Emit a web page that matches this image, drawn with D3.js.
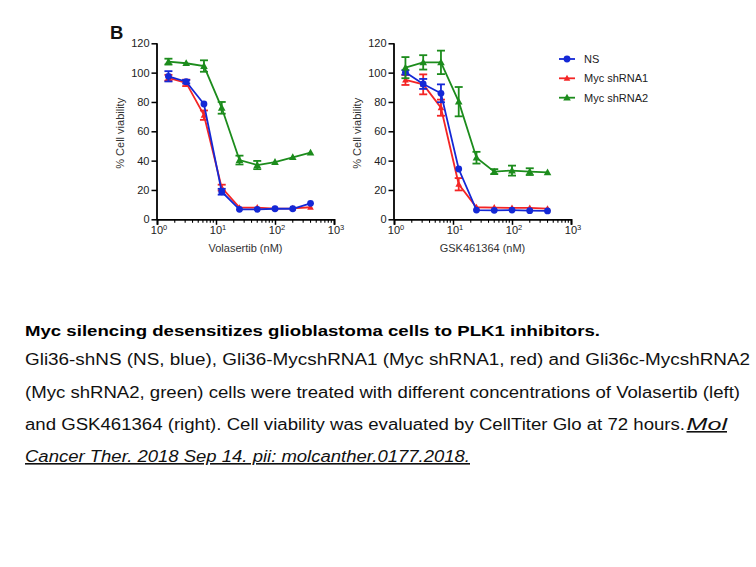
<!DOCTYPE html>
<html><head><meta charset="utf-8">
<script src="https://cdn.jsdelivr.net/npm/d3@7"></script>
<style>
html,body{margin:0;padding:0;background:#fff;}
svg{display:block;}
</style></head>
<body>
<svg id="c" width="756" height="567"></svg>
<script>
// ---- data ----
const conc = [1.5625, 3.125, 6.25, 12.5, 25, 50, 100, 200, 400];
const seriesNames = ["NS", "Myc shRNA1", "Myc shRNA2"];
const seriesColors = ["#1428d6", "#f42525", "#1c8c1c"];
const xTitles = ["Volasertib (nM)", "GSK461364 (nM)"];
const yTitle = "% Cell viability";
const yTicks = [0, 20, 40, 60, 80, 100, 120];
const xTickExps = [0, 1, 2, 3];

// Volasertib (left)
const volNS   = [97.5, 93.8, 78.6, 18.8, 6.8, 6.8, 7.2, 7.2, 10.9];
const volNSe  = [3.5, 1.2, 1.0, 2.0, 0.8, 0.6, 0.5, 0.5, 0.8];
const volSh1  = [96.5, 93.0, 71.0, 21.6, 7.9, 8.0, 7.3, 7.5, 8.2];
const volSh1e = [2.0, 2.2, 3.2, 2.0, 0.6, 0.6, 0.5, 0.5, 0.5];
const volSh2  = [107.5, 106.4, 104.5, 76.0, 40.4, 37.0, 39.0, 42.3, 45.4];
const volSh2e = [2.0, 0.8, 3.9, 4.0, 3.0, 2.8, 1.0, 0.8, 0.5];

// GSK461364 (right)
const gskNS   = [100.2, 92.3, 85.9, 34.3, 6.3, 6.1, 6.3, 5.9, 5.7];
const gskNSe  = [1.5, 3.4, 6.1, 1.0, 0.6, 0.5, 0.5, 0.5, 0.5];
const gskSh1  = [95.0, 92.0, 76.1, 23.9, 8.2, 8.0, 7.8, 7.8, 7.3];
const gskSh1e = [3.4, 6.8, 5.5, 4.2, 0.6, 0.5, 0.5, 0.5, 0.5];
const gskSh2  = [103.4, 107.0, 107.0, 80.2, 42.0, 32.5, 33.2, 32.5, 32.0];
const gskSh2e = [7.2, 4.9, 8.0, 10.0, 4.0, 1.7, 3.4, 2.3, 0.5];

const captionTitle = "Myc silencing desensitizes glioblastoma cells to PLK1 inhibitors.";
const captionLines = [
  "Gli36-shNS (NS, blue), Gli36-MycshRNA1 (Myc shRNA1, red) and Gli36c-MycshRNA2",
  "(Myc shRNA2, green) cells were treated with different concentrations of Volasertib (left)",
  "and GSK461364 (right). Cell viability was evaluated by CellTiter Glo at 72 hours."
];
const captionRef1 = " Mol";
const captionRef2 = "Cancer Ther. 2018 Sep 14. pii: molcanther.0177.2018.";

// ---- drawing ----
const svg = d3.select("#c");
const font = "'Liberation Sans', Arial, sans-serif";
const narrow = "'Liberation Sans Narrow', 'Arial Narrow', 'Liberation Sans', Arial, sans-serif";

const panels = [
  {x0: 157, x1: 334, title: xTitles[0], ylabX: 124,
   series: [[volNS, volNSe], [volSh1, volSh1e], [volSh2, volSh2e]]},
  {x0: 394, x1: 571, title: xTitles[1], ylabX: 361,
   series: [[gskNS, gskNSe], [gskSh1, gskSh1e], [gskSh2, gskSh2e]]}
];
const yTop = 43.3, yBot = 219.3;

function marker(g, type, color, cx, cy) {
  if (type === 0) {
    g.append("circle").attr("cx", cx).attr("cy", cy).attr("r", 3.4).attr("fill", color);
  } else {
    const s = type === 1 ? 3.3 : 3.8;
    g.append("path")
      .attr("d", `M${cx},${cy - s * 1.05}L${cx + s},${cy + s * 0.75}L${cx - s},${cy + s * 0.75}Z`)
      .attr("fill", color);
  }
}

panels.forEach(p => {
  const x = d3.scaleLog().domain([1, 1000]).range([p.x0, p.x1]);
  const y = d3.scaleLinear().domain([0, 120]).range([yBot, yTop]);
  const g = svg.append("g");

  // minor x ticks
  const minors = [];
  [1, 10, 100].forEach(d => { for (let k = 2; k <= 9; k++) minors.push(d * k); });
  g.selectAll(".minor").data(minors).enter().append("line")
    .attr("x1", d => x(d)).attr("x2", d => x(d))
    .attr("y1", yBot).attr("y2", yBot + 3.5)
    .attr("stroke", "#000").attr("stroke-width", 1.1);

  // x axis
  const xa = d3.axisBottom(x).tickValues(xTickExps.map(e => Math.pow(10, e)))
    .tickSize(5.5).tickFormat("");
  const xg = g.append("g").attr("transform", `translate(0,${yBot})`).call(xa);
  xg.select(".domain").attr("stroke-width", 1.8).attr("stroke", "#000");
  xg.selectAll(".tick line").attr("stroke-width", 1.5).attr("stroke", "#000");
  xTickExps.forEach(e => {
    const t = g.append("text").attr("x", x(Math.pow(10, e)) + 2).attr("y", yBot + 15)
      .attr("text-anchor", "middle").attr("font-family", font).attr("font-size", 11).attr("fill", "#222");
    t.append("tspan").text("10");
    t.append("tspan").attr("dy", -4.5).attr("font-size", 7.5).text(String(e));
  });

  // y axis
  const ya = d3.axisLeft(y).tickValues(yTicks).tickSize(5.5).tickPadding(2).tickFormat(d3.format("d"));
  const yg = g.append("g").attr("transform", `translate(${p.x0},0)`).call(ya);
  yg.select(".domain").attr("stroke-width", 1.8).attr("stroke", "#000")
    .attr("d", `M0,${yTop}V${yBot}`);
  yg.selectAll(".tick line").attr("stroke-width", 1.5).attr("stroke", "#000");
  yg.selectAll(".tick text").attr("font-family", font).attr("font-size", 11).attr("fill", "#222");

  // titles
  g.append("text").attr("x", (p.x0 + p.x1) / 2).attr("y", 252)
    .attr("text-anchor", "middle").attr("font-family", font).attr("font-size", 11).attr("fill", "#333")
    .text(p.title);
  g.append("text").attr("transform", `translate(${p.ylabX},${(yTop + yBot) / 2 + 2}) rotate(-90)`)
    .attr("text-anchor", "middle").attr("font-family", font).attr("font-size", 11).attr("fill", "#333")
    .text(yTitle);

  // series (draw order: red, blue, green)
  [1, 0, 2].forEach(si => {
    const [vals, errs] = p.series[si];
    const col = seriesColors[si];
    const sg = g.append("g");
    const line = d3.line().x((d, i) => x(conc[i])).y(d => y(d));
    sg.append("path").attr("d", line(vals)).attr("fill", "none")
      .attr("stroke", col).attr("stroke-width", 1.8);
    vals.forEach((v, i) => {
      const e = errs[i];
      const cx = x(conc[i]);
      if (y(v - e) - y(v + e) > 3) {
        sg.append("line").attr("x1", cx).attr("x2", cx).attr("y1", y(v - e)).attr("y2", y(v + e))
          .attr("stroke", col).attr("stroke-width", 1.8);
        [v - e, v + e].forEach(yy => {
          sg.append("line").attr("x1", cx - 4).attr("x2", cx + 4).attr("y1", y(yy)).attr("y2", y(yy))
            .attr("stroke", col).attr("stroke-width", 1.8);
        });
      }
      marker(sg, si, col, cx, y(v));
    });
  });
});

// legend
const legY = [59, 78.3, 97.7];
seriesNames.forEach((n, i) => {
  const lg = svg.append("g");
  lg.append("line").attr("x1", 559).attr("x2", 575).attr("y1", legY[i]).attr("y2", legY[i])
    .attr("stroke", seriesColors[i]).attr("stroke-width", 1.8);
  marker(lg, i, seriesColors[i], 567, legY[i]);
  lg.append("text").attr("x", 584).attr("y", legY[i] + 4)
    .attr("font-family", font).attr("font-size", 11).attr("fill", "#222").text(n);
});

// panel letter
svg.append("text").attr("x", 110).attr("y", 38.5).attr("font-family", font)
  .attr("font-weight", "bold").attr("font-size", 18.5).attr("fill", "#111").text("B");

// caption
svg.append("text").attr("x", 25).attr("y", 335.5).attr("font-family", narrow)
  .attr("font-weight", "bold").attr("font-size", 15.5).attr("fill", "#000")
  .attr("textLength", 575).attr("lengthAdjust", "spacingAndGlyphs").text(captionTitle);
const capBase = [365, 398, 430];
const capLen = [725, 715, 660];
captionLines.forEach((t, i) => {
  svg.append("text").attr("x", 25).attr("y", capBase[i]).attr("font-family", narrow)
    .attr("font-size", 16).attr("fill", "#111")
    .attr("textLength", capLen[i]).attr("lengthAdjust", "spacingAndGlyphs").text(t);
});
svg.append("text").attr("x", 686.5).attr("y", 430).attr("font-family", narrow)
  .attr("font-size", 16).attr("font-style", "italic").attr("fill", "#111")
  .attr("text-decoration", "underline")
  .attr("textLength", 40.5).attr("lengthAdjust", "spacingAndGlyphs").text(captionRef1);
svg.append("text").attr("x", 25).attr("y", 462).attr("font-family", narrow)
  .attr("font-size", 16).attr("font-style", "italic").attr("fill", "#111")
  .attr("text-decoration", "underline")
  .attr("textLength", 445).attr("lengthAdjust", "spacingAndGlyphs").text(captionRef2);
</script>
</body></html>
